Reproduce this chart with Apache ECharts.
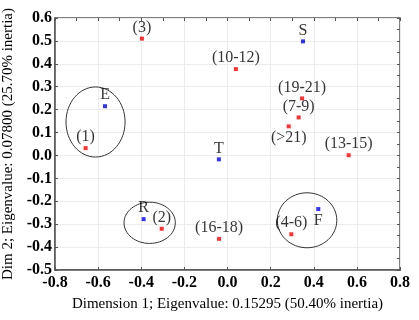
<!DOCTYPE html>
<html>
<head>
<meta charset="utf-8">
<script src="https://cdn.jsdelivr.net/npm/echarts@6/dist/echarts.min.js"></script>
<style>
  html, body { margin: 0; padding: 0; background: #fff; }
  #chart { width: 419px; height: 320px; }
</style>
</head>
<body>
<div id="chart"></div>
<script>
// age groups (red) and letter categories (blue): [dim1, dim2]
const ageLabels = ['(1)', '(2)', '(3)', '(4-6)', '(7-9)', '(10-12)', '(13-15)', '(16-18)', '(19-21)', '(>21)'];
const ageX = [-0.658, -0.305, -0.397, 0.296, 0.330, 0.039, 0.562, -0.039, 0.346, 0.284];
const ageY = [0.032, -0.320, 0.510, -0.344, 0.166, 0.377, 0.001, -0.364, 0.249, 0.127];

const letterLabels = ['E', 'S', 'T', 'R', 'F'];
const letterX = [-0.568, 0.350, -0.040, -0.389, 0.421];
const letterY = [0.215, 0.498, -0.017, -0.278, -0.234];

// grouping ellipses: centre x, centre y, radius x, radius y (data units)
const ellipseCx = [-0.612, -0.361, 0.369];
const ellipseCy = [0.146, -0.294, -0.283];
const ellipseRx = [0.137, 0.119, 0.138];
const ellipseRy = [0.153, 0.090, 0.120];

const xTicks = { min: -0.8, max: 0.8, step: 0.2 };
const yTicks = { min: -0.5, max: 0.6, step: 0.1 };

const serif = '"Liberation Serif", "DejaVu Serif", serif';

const chart = echarts.init(document.getElementById('chart'));

function pointData(xs, ys, names) {
  return xs.map((x, i) => ({ value: [x, ys[i]], name: names[i] }));
}

const agePoints = pointData(ageX, ageY, ageLabels);
agePoints[ageLabels.indexOf('(>21)')].label = { position: 'bottom', distance: 1 };

const letterPoints = pointData(letterX, letterY, letterLabels);
letterPoints[letterLabels.indexOf('F')].label = { position: 'bottom', distance: 2 };

const ellipses = ellipseCx.map((cx, i) => [cx, ellipseCy[i], ellipseRx[i], ellipseRy[i]]);

const axisCommon = {
  type: 'value',
  axisLine: { onZero: false, lineStyle: { color: '#555', width: 1.5 } },
  axisTick: { inside: true, length: 3, lineStyle: { color: '#555' } },
  splitLine: { show: true, lineStyle: { color: '#ececec', width: 1 } },
  nameTextStyle: { fontFamily: serif, fontSize: 15, color: '#000' }
};

const tickLabel = {
  fontFamily: serif, fontSize: 16, fontWeight: 'bold', color: '#000',
  formatter: (v) => v.toFixed(1)
};

const pointLabel = {
  show: true,
  position: 'top',
  distance: 1,
  formatter: '{b}',
  fontFamily: serif,
  fontSize: 16,
  color: '#000'
};

const frameTick = { inside: true, length: 3, lineStyle: { color: '#555' } };

chart.setOption({
  animation: false,
  grid: {
    left: 55, right: 19, top: 18, bottom: 50,
    outerBoundsMode: 'none', containLabel: false,
    show: true, borderColor: '#555', borderWidth: 1.5
  },
  xAxis: [
    Object.assign({}, axisCommon, {
      min: xTicks.min, max: xTicks.max, interval: xTicks.step,
      name: 'Dimension 1; Eigenvalue: 0.15295 (50.40% inertia)',
      nameLocation: 'middle', nameGap: 27,
      axisLabel: Object.assign({ margin: 5 }, tickLabel)
    }),
    {
      type: 'value', position: 'top', min: xTicks.min, max: xTicks.max, interval: xTicks.step / 2,
      axisLine: { show: false, onZero: false }, axisLabel: { show: false }, splitLine: { show: false },
      axisTick: frameTick
    }
  ],
  yAxis: [
    Object.assign({}, axisCommon, {
      min: yTicks.min, max: yTicks.max, interval: yTicks.step,
      name: 'Dim 2; Eigenvalue: 0.07800 (25.70% inertia)',
      nameLocation: 'middle', nameGap: 33,
      axisLabel: Object.assign({ margin: 3 }, tickLabel)
    }),
    {
      type: 'value', position: 'right', min: yTicks.min, max: yTicks.max, interval: yTicks.step / 2,
      axisLine: { show: false, onZero: false }, axisLabel: { show: false }, splitLine: { show: false },
      axisTick: frameTick
    }
  ],
  series: [
    {
      type: 'custom',
      silent: true,
      data: ellipses,
      renderItem: (params, api) => {
        const c = api.coord([api.value(0), api.value(1)]);
        const s = api.size([api.value(2), api.value(3)]);
        return {
          type: 'ellipse',
          shape: { cx: c[0], cy: c[1], rx: s[0], ry: s[1] },
          style: { fill: 'none', stroke: '#333', lineWidth: 1 }
        };
      }
    },
    {
      type: 'scatter',
      symbol: 'rect',
      symbolSize: 4,
      itemStyle: { color: '#ff0000' },
      label: pointLabel,
      data: agePoints
    },
    {
      type: 'scatter',
      symbol: 'rect',
      symbolSize: 4,
      itemStyle: { color: '#0000ff' },
      label: pointLabel,
      data: letterPoints
    }
  ]
});
</script>
</body>
</html>
